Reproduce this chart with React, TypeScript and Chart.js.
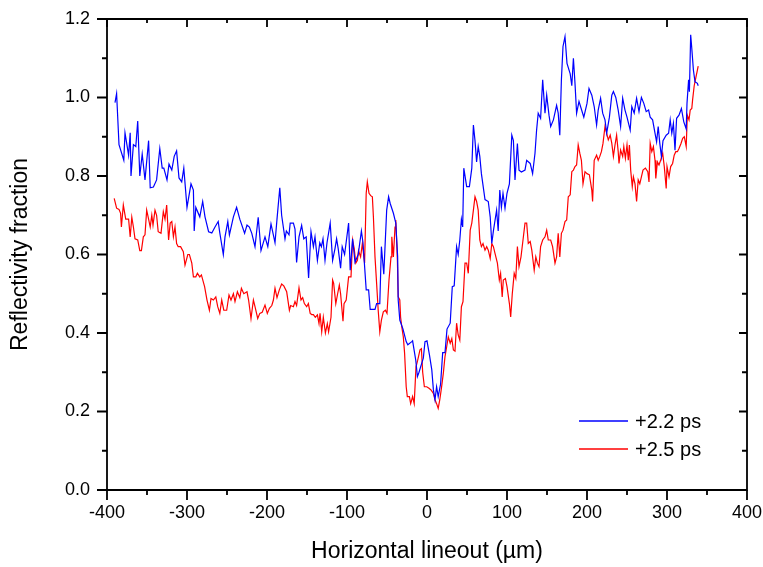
import React, { useEffect, useRef } from "react";
import { Chart, registerables } from "chart.js";

Chart.register(...registerables);

const seriesLabels = ["+2.2 ps", "+2.5 ps"];
const seriesColors = ["#0000FF", "#FF0000"];

const blueX = [-390, -388, -385, -379, -377.5, -373, -371, -370, -367, -364, -361.6, -359, -356, -352.5, -348, -346, -342, -338, -334, -331, -329, -325, -322.5, -319, -316, -313, -310, -306.6, -304, -300, -295, -292, -291, -289, -284, -280.4, -277.5, -273, -269, -265, -261, -259, -254.6, -252.5, -249, -247, -242, -238, -234, -228, -225, -222, -219, -215, -211, -207.5, -202.5, -199, -195, -190, -187.5, -184, -181.7, -177.5, -175.8, -172.5, -171, -167, -165, -163, -160, -156.7, -154, -151, -148, -145, -142, -140, -137, -134, -132, -130, -127.5, -125, -121, -118, -115, -113, -111, -108, -106, -103, -98, -96, -93, -90, -86, -82, -80, -76, -73, -71, -68, -65, -63, -59, -57, -54, -50.4, -48, -46, -42, -39, -36.7, -36, -34, -30, -26, -24, -19, -18, -14, -12, -10, -7, -4.6, -2.5, 0, 3, 6, 8, 10, 12, 14, 17, 19.6, 22.5, 25, 29, 31.6, 34, 37, 39, 41, 43, 44.6, 46, 49.6, 53, 56, 58, 60, 62, 64, 66, 68, 72.5, 76.6, 79, 81, 83, 87, 89, 91, 93, 95, 97.5, 100, 103, 106, 108, 110, 113, 115, 118, 122.5, 124.6, 129, 132, 135, 137, 139, 142, 144.6, 147.5, 149.6, 152.5, 154.6, 158, 162, 164, 166, 168, 170, 172.5, 175, 179, 181, 183, 185, 187, 190, 193, 196, 200, 202.5, 206, 209, 212, 214, 217, 219.6, 222.5, 224.6, 228, 231, 233, 236, 239, 242, 244.6, 247.5, 250, 254, 256, 259, 262, 265, 268, 271, 274, 277, 279, 282, 285, 287, 289, 291, 293, 295, 299, 302, 304, 306, 308, 310, 312, 315, 318, 321, 324, 325, 327, 328, 329.6, 331, 333, 335, 338, 339];
const blueY = [0.987, 1.01, 0.88, 0.84, 0.91, 0.853, 0.91, 0.8, 0.88, 0.875, 0.94, 0.8, 0.856, 0.79, 0.89, 0.77, 0.772, 0.79, 0.87, 0.82, 0.82, 0.79, 0.83, 0.815, 0.85, 0.864, 0.795, 0.785, 0.82, 0.72, 0.78, 0.764, 0.66, 0.72, 0.696, 0.735, 0.696, 0.658, 0.655, 0.67, 0.684, 0.655, 0.6, 0.645, 0.684, 0.65, 0.696, 0.72, 0.69, 0.654, 0.675, 0.67, 0.654, 0.62, 0.695, 0.61, 0.645, 0.62, 0.678, 0.63, 0.69, 0.77, 0.7, 0.64, 0.66, 0.65, 0.68, 0.68, 0.665, 0.58, 0.645, 0.674, 0.64, 0.645, 0.54, 0.658, 0.62, 0.645, 0.585, 0.63, 0.62, 0.64, 0.585, 0.63, 0.68, 0.585, 0.615, 0.64, 0.615, 0.565, 0.62, 0.6, 0.68, 0.56, 0.64, 0.58, 0.6, 0.66, 0.63, 0.51, 0.51, 0.46, 0.46, 0.46, 0.475, 0.475, 0.62, 0.55, 0.713, 0.747, 0.73, 0.705, 0.68, 0.595, 0.484, 0.433, 0.41, 0.378, 0.37, 0.378, 0.38, 0.33, 0.289, 0.3, 0.32, 0.336, 0.378, 0.38, 0.345, 0.306, 0.255, 0.23, 0.263, 0.238, 0.27, 0.35, 0.35, 0.41, 0.425, 0.518, 0.52, 0.62, 0.6, 0.637, 0.69, 0.67, 0.82, 0.773, 0.773, 0.82, 0.93, 0.89, 0.836, 0.875, 0.85, 0.806, 0.74, 0.735, 0.696, 0.628, 0.66, 0.713, 0.66, 0.764, 0.72, 0.756, 0.718, 0.756, 0.78, 0.904, 0.89, 0.79, 0.883, 0.815, 0.81, 0.815, 0.84, 0.832, 0.806, 0.858, 0.917, 0.96, 0.947, 1.045, 0.96, 1.006, 0.955, 0.926, 0.943, 0.98, 0.96, 0.904, 1.045, 1.13, 1.155, 1.087, 1.06, 1.03, 1.1, 1.036, 0.96, 0.99, 0.97, 0.95, 0.985, 1.023, 1.006, 0.977, 0.93, 0.968, 0.998, 0.96, 0.943, 0.909, 0.95, 1.006, 1.015, 1.0, 0.968, 0.926, 0.998, 0.968, 0.95, 0.917, 0.977, 0.96, 0.998, 0.964, 1.0, 0.985, 0.964, 0.968, 0.95, 0.943, 0.909, 0.887, 0.926, 0.883, 0.85, 0.89, 0.904, 0.909, 0.943, 0.909, 0.934, 0.866, 0.947, 0.955, 0.972, 0.938, 0.92, 0.985, 1.045, 1.015, 1.16, 1.125, 1.07, 1.04, 1.036, 1.03];

const redX = [-391, -388, -385, -383, -382, -379.6, -376.6, -373, -371, -369, -367, -365, -361.6, -359, -357, -354.6, -352.5, -350.4, -348, -346, -344, -342.5, -340, -338, -336, -332.5, -329.6, -327.5, -325.4, -323, -321, -319, -317, -315, -313, -311, -308, -304.6, -302.5, -299, -297, -294, -292, -289, -287, -284, -282, -278, -275, -272, -270, -267, -264, -261.6, -259, -256.6, -254, -250.4, -247.5, -245, -242, -240, -237, -234, -232, -229, -225, -223, -220, -217, -215, -211.6, -209, -206, -202.5, -199.6, -197, -194, -192, -190, -187.5, -184.6, -181.7, -179, -175.4, -172, -170.4, -167, -165, -163, -160, -157.5, -155.4, -153.3, -150.4, -148.3, -146, -144, -142, -139.6, -137, -135, -133.7, -131.6, -129.6, -127, -124.6, -123, -120, -118, -116.7, -114, -111.7, -109.6, -108, -105, -103.7, -101, -98, -95, -93, -91, -89, -87, -85.6, -83, -80.8, -78, -76, -74.6, -72.5, -70.4, -68.3, -67, -65, -63, -61, -59, -57, -54.6, -52, -50, -47.5, -45, -44, -42, -40, -39, -37, -36, -34, -33, -31.6, -29.6, -28, -26, -24.6, -22, -20.4, -18, -16, -13.75, -11.7, -8.75, -7, -5.4, -3.3, -0.4, 2.5, 5, 8, 10, 12, 14, 16, 18, 20.4, 22.5, 24.6, 26.6, 29, 31, 33, 35, 37, 39, 41, 43, 45, 47.5, 49.6, 51.6, 54, 56, 58, 60, 62, 64, 66, 68, 70, 72.5, 74.6, 76.6, 79, 81, 83, 85, 88, 90.4, 92, 94, 95.4, 98, 100, 103, 104.6, 106.6, 109, 111, 113, 115, 117.5, 120, 122.5, 124.6, 126.6, 129, 131, 134, 136, 138, 140, 142, 144.6, 147.5, 149.6, 151.6, 154.6, 157, 160, 162, 164, 166, 168, 170, 172.5, 174.6, 176.6, 179, 181, 183, 185, 187, 189, 191, 193, 195, 197.5, 200, 203, 206, 207, 209, 212, 214, 216, 218, 220, 222.5, 224.6, 226.6, 229, 231, 233, 235, 237, 239, 240, 242, 244.6, 246, 248, 250, 251.6, 253, 254.6, 256.6, 258, 260, 262, 264, 266, 268, 270, 273, 276, 277.5, 279, 281, 283, 285, 286, 288, 290, 292, 294.6, 296.6, 299, 300, 302.5, 304.6, 307, 309, 311, 313, 315, 317.5, 319.6, 321.6, 324, 325.4, 327.5, 329, 331, 332, 334, 336, 338, 339];
const redY = [0.743, 0.718, 0.715, 0.705, 0.67, 0.726, 0.69, 0.69, 0.645, 0.695, 0.67, 0.64, 0.637, 0.61, 0.61, 0.645, 0.65, 0.713, 0.69, 0.67, 0.7, 0.675, 0.713, 0.7, 0.658, 0.654, 0.709, 0.69, 0.726, 0.637, 0.68, 0.684, 0.645, 0.67, 0.628, 0.62, 0.62, 0.607, 0.573, 0.6, 0.6, 0.578, 0.543, 0.543, 0.552, 0.543, 0.548, 0.518, 0.484, 0.458, 0.488, 0.484, 0.492, 0.467, 0.45, 0.484, 0.458, 0.458, 0.497, 0.484, 0.5, 0.48, 0.505, 0.49, 0.514, 0.5, 0.505, 0.484, 0.437, 0.484, 0.467, 0.437, 0.45, 0.453, 0.471, 0.45, 0.463, 0.47, 0.484, 0.514, 0.49, 0.51, 0.525, 0.52, 0.505, 0.458, 0.47, 0.467, 0.48, 0.47, 0.515, 0.484, 0.49, 0.475, 0.467, 0.475, 0.45, 0.447, 0.447, 0.44, 0.446, 0.424, 0.45, 0.403, 0.44, 0.4, 0.424, 0.403, 0.44, 0.535, 0.527, 0.475, 0.5, 0.522, 0.5, 0.43, 0.475, 0.484, 0.543, 0.543, 0.637, 0.615, 0.578, 0.585, 0.61, 0.594, 0.628, 0.578, 0.756, 0.785, 0.756, 0.75, 0.747, 0.696, 0.594, 0.527, 0.458, 0.403, 0.433, 0.454, 0.458, 0.45, 0.535, 0.594, 0.645, 0.594, 0.67, 0.688, 0.585, 0.492, 0.484, 0.44, 0.417, 0.39, 0.348, 0.263, 0.238, 0.238, 0.22, 0.238, 0.22, 0.314, 0.33, 0.357, 0.36, 0.3, 0.263, 0.263, 0.259, 0.255, 0.246, 0.23, 0.22, 0.208, 0.23, 0.259, 0.297, 0.34, 0.365, 0.39, 0.374, 0.386, 0.357, 0.354, 0.425, 0.395, 0.382, 0.467, 0.48, 0.578, 0.578, 0.552, 0.662, 0.68, 0.713, 0.747, 0.735, 0.713, 0.637, 0.62, 0.628, 0.611, 0.62, 0.611, 0.59, 0.628, 0.62, 0.603, 0.578, 0.535, 0.552, 0.492, 0.535, 0.539, 0.518, 0.475, 0.441, 0.5, 0.552, 0.539, 0.62, 0.569, 0.594, 0.637, 0.68, 0.68, 0.628, 0.633, 0.611, 0.56, 0.594, 0.578, 0.569, 0.62, 0.637, 0.645, 0.662, 0.637, 0.637, 0.62, 0.578, 0.594, 0.654, 0.594, 0.654, 0.662, 0.684, 0.688, 0.747, 0.752, 0.811, 0.815, 0.824, 0.828, 0.879, 0.858, 0.84, 0.78, 0.811, 0.806, 0.803, 0.764, 0.735, 0.84, 0.853, 0.84, 0.85, 0.862, 0.883, 0.926, 0.909, 0.892, 0.904, 0.883, 0.85, 0.879, 0.904, 0.862, 0.832, 0.866, 0.85, 0.875, 0.845, 0.879, 0.84, 0.879, 0.815, 0.773, 0.798, 0.78, 0.735, 0.79, 0.78, 0.798, 0.815, 0.82, 0.811, 0.785, 0.883, 0.862, 0.875, 0.84, 0.794, 0.836, 0.828, 0.84, 0.858, 0.824, 0.768, 0.824, 0.798, 0.824, 0.832, 0.853, 0.862, 0.862, 0.87, 0.883, 0.896, 0.9, 0.875, 0.955, 0.943, 0.968, 0.972, 0.994, 1.03, 1.05, 1.07, 1.08];

const xMajorTicks = [-400, -300, -200, -100, 0, 100, 200, 300, 400];
const xMinorTicks = [-350, -250, -150, -50, 50, 150, 250, 350];
const yMajorTicks = [0, 0.2, 0.4, 0.6, 0.8, 1.0, 1.2];
const yMinorTicks = [0.1, 0.3, 0.5, 0.7, 0.9, 1.1];

const FONT = '"Liberation Sans", Arial, sans-serif';

const framePlugin = {
  id: "frameTicks",
  afterDraw(chart: any) {
    const { ctx, chartArea: a, scales } = chart;
    const xs = scales.x;
    const ys = scales.y;
    ctx.save();
    ctx.strokeStyle = "#000";
    ctx.lineWidth = 1.8;
    ctx.lineCap = "butt";
    ctx.beginPath();
    ctx.rect(a.left, a.top, a.right - a.left, a.bottom - a.top);
    ctx.stroke();
    ctx.beginPath();
    xMajorTicks.forEach((v) => {
      const px = xs.getPixelForValue(v);
      ctx.moveTo(px, a.bottom);
      ctx.lineTo(px, a.bottom + 10);
      ctx.moveTo(px, a.top);
      ctx.lineTo(px, a.top + 8);
    });
    xMinorTicks.forEach((v) => {
      const px = xs.getPixelForValue(v);
      ctx.moveTo(px, a.bottom);
      ctx.lineTo(px, a.bottom + 5);
      ctx.moveTo(px, a.top);
      ctx.lineTo(px, a.top + 4);
    });
    yMajorTicks.forEach((v) => {
      const py = ys.getPixelForValue(v);
      ctx.moveTo(a.left, py);
      ctx.lineTo(a.left - 10, py);
      ctx.moveTo(a.right, py);
      ctx.lineTo(a.right - 8, py);
    });
    yMinorTicks.forEach((v) => {
      const py = ys.getPixelForValue(v);
      ctx.moveTo(a.left, py);
      ctx.lineTo(a.left - 5, py);
      ctx.moveTo(a.right, py);
      ctx.lineTo(a.right - 5, py);
    });
    ctx.stroke();

    // legend
    const lx0 = a.right - 168;
    const lx1 = a.right - 119;
    const ly = [a.bottom - 69, a.bottom - 41];
    ctx.font = `20px ${FONT}`;
    ctx.textBaseline = "middle";
    ctx.textAlign = "left";
    chart.data.datasets.forEach((ds: any, i: number) => {
      ctx.strokeStyle = ds.borderColor;
      ctx.lineWidth = 1.3;
      ctx.beginPath();
      ctx.moveTo(lx0, ly[i]);
      ctx.lineTo(lx1, ly[i]);
      ctx.stroke();
      ctx.fillStyle = "#000";
      ctx.fillText(ds.label, lx1 + 7, ly[i] + 1);
    });
    ctx.restore();
  },
};

export default function App() {
  const ref = useRef<HTMLCanvasElement | null>(null);
  useEffect(() => {
    if (!ref.current) return;
    const chart = new Chart(ref.current, {
      type: "line",
      data: {
        datasets: [
          {
            label: seriesLabels[0],
            data: blueX.map((x, i) => ({ x, y: blueY[i] })),
            borderColor: seriesColors[0],
            backgroundColor: seriesColors[0],
            borderWidth: 1.2,
            pointRadius: 0,
            tension: 0,
          },
          {
            label: seriesLabels[1],
            data: redX.map((x, i) => ({ x, y: redY[i] })),
            borderColor: seriesColors[1],
            backgroundColor: seriesColors[1],
            borderWidth: 1.2,
            pointRadius: 0,
            tension: 0,
          },
        ],
      },
      options: {
        responsive: false,
        animation: false,
        layout: { padding: { left: 0, right: 16, top: 19, bottom: 0 } },
        plugins: { legend: { display: false }, tooltip: { enabled: false } },
        scales: {
          x: {
            type: "linear",
            min: -400,
            max: 400,
            grid: { display: false, drawTicks: false },
            border: { display: false },
            ticks: {
              stepSize: 100,
              autoSkip: false,
              maxRotation: 0,
              padding: 12,
              color: "#000",
              font: { family: FONT, size: 18 },
            },
            title: {
              display: true,
              text: "Horizontal lineout (µm)",
              color: "#000",
              font: { family: FONT, size: 23 },
              padding: { top: 0, bottom: 2 },
            },
            afterFit: (s: any) => {
              s.height = 77;
              s.paddingLeft = 0;
              s.paddingRight = 0;
            },
          },
          y: {
            type: "linear",
            min: 0,
            max: 1.2,
            grid: { display: false, drawTicks: false },
            border: { display: false },
            ticks: {
              stepSize: 0.2,
              padding: 17,
              color: "#000",
              font: { family: FONT, size: 18 },
              callback: (v: any) => Number(v).toFixed(1),
            },
            title: {
              display: true,
              text: "Reflectivity fraction",
              color: "#000",
              font: { family: FONT, size: 23 },
              padding: { top: 7, bottom: 0 },
            },
            afterFit: (s: any) => {
              s.width = 107;
              s.paddingTop = 0;
              s.paddingBottom = 0;
            },
          },
        },
      },
      plugins: [framePlugin],
    });
    return () => chart.destroy();
  }, []);
  return (
    <div style={{ position: "fixed", left: 0, top: 0, width: 763, height: 567, background: "#fff" }}>
      <canvas ref={ref} width={763} height={567} style={{ display: "block" }} />
    </div>
  );
}
